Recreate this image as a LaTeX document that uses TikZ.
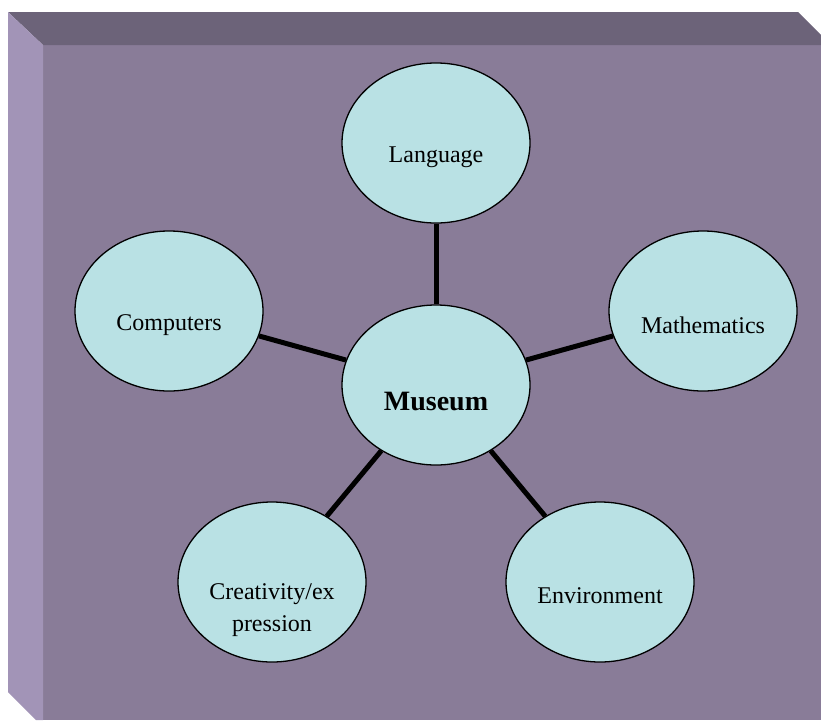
\documentclass[tikz,border=0pt]{standalone}
\usepackage{fontspec}
\setmainfont{Liberation Serif}
\usetikzlibrary{shapes.geometric}
\definecolor{frontface}{HTML}{897C98}
\definecolor{topface}{HTML}{6C6379}
\definecolor{leftface}{HTML}{A294B7}
\definecolor{bubblefill}{HTML}{B9E1E4}
\tikzset{
  bubble/.style={ellipse, draw=black, line width=1.3pt, fill=bubblefill, minimum width=188pt, minimum height=160pt, inner sep=0pt},
  txt/.style={font=\fontsize{24}{32}\selectfont, align=center, inner sep=0pt},
  link/.style={line width=5pt, black}
}
\begin{document}
\begin{tikzpicture}[x=1pt,y=-1pt]
\useasboundingbox (0,0) rectangle (821,720);
\fill[frontface] (43,45) rectangle (821,720);
\fill[topface] (8,12) -- (798,12) -- (821,35) -- (821,45) -- (43,45) -- cycle;
\fill[leftface] (8,12) -- (43,45) -- (43,720) -- (36,720) -- (8,692) -- cycle;

\node[bubble] (mus) at (436,385) {};
\node[bubble] (lang) at (436,143) {};
\node[bubble] (comp) at (169,311) {};
\node[bubble] (math) at (703,311) {};
\node[bubble] (crea) at (272,582) {};
\node[bubble] (env) at (600,582) {};

\draw[link] (mus) -- (lang);
\draw[link] (mus) -- (comp);
\draw[link] (mus) -- (math);
\draw[link] (mus) -- (crea);
\draw[link] (mus) -- (env);

\node[txt, font=\fontsize{28}{32}\selectfont\bfseries] (tmus) at ([yshift=-16pt]mus.center) {Museum};
\node[txt] (tlang) at ([yshift=-14pt]lang.center) {Language};
\node[txt] (tcomp) at ([yshift=-14pt]comp.center) {Computers};
\node[txt] (tmath) at ([yshift=-14pt]math.center) {Mathematics};
\node[txt] (tcrea) at ([yshift=-28pt]crea.center) {Creativity/ex\\pression};
\node[txt] (tenv) at ([yshift=-14pt]env.center) {Environment};
\end{tikzpicture}
\end{document}
